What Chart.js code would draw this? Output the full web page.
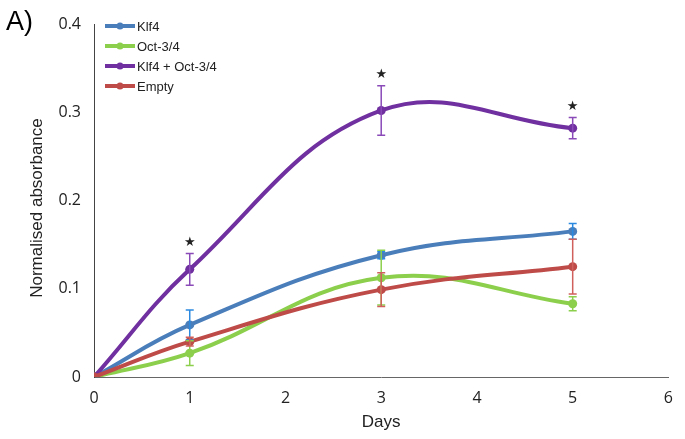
<!DOCTYPE html>
<html><head><meta charset="utf-8">
<script src="https://cdn.jsdelivr.net/npm/chart.js@4.4.0/dist/chart.umd.min.js"></script>
<style>html,body{margin:0;padding:0;background:#fff;} canvas{display:block;}</style>
</head><body>
<canvas id="c" width="685" height="439"></canvas>
<script>
const days = [0, 1, 3, 5];
const klf4 = [0, 0.059, 0.138, 0.165];
const klf4Err = [0, 0.017, 0.004, 0.009];
const oct = [0, 0.027, 0.1125, 0.083];
const octErr = [0, 0.014, 0.031, 0.008];
const both = [0, 0.122, 0.302, 0.282];
const bothErr = [0, 0.018, 0.028, 0.012];
const empty = [0, 0.040, 0.099, 0.125];
const emptyErr = [0, 0.005, 0.019, 0.031];
const seriesLabels = ['Klf4', 'Oct-3/4', 'Klf4 + Oct-3/4', 'Empty'];
const seriesColors = ['#4a7ebb', '#8ccf4d', '#7030a0', '#be4b48'];
const errColors = ['#2b8ae0', '#8ccf4d', '#8a4ab8', '#d0605c'];
const xTicks = [0, 1, 2, 3, 4, 5, 6];
const yTicks = [0, 0.1, 0.2, 0.3, 0.4];
const starDays = [1, 3, 5];
const panelLabel = 'A)';
const xTitle = 'Days';
const yTitle = 'Normalised absorbance';

const values = [klf4, oct, both, empty];
const errors = [klf4Err, octErr, bothErr, emptyErr];

const datasets = values.map((vals, i) => ({
  label: seriesLabels[i],
  data: days.map((d, j) => ({x: d, y: vals[j]})),
  borderColor: seriesColors[i],
  backgroundColor: seriesColors[i],
  borderWidth: 4,
  pointRadius: 4.5,
  pointBorderWidth: 0,
  pointHoverRadius: 4.5,
  tension: 0.4,
  fill: false,
  order: 4 - i
}));

const extras = {
  id: 'extras',
  afterDatasetsDraw(chart) {
    const {ctx, scales: {x, y}} = chart;
    ctx.save();
    values.forEach((vals, i) => {
      ctx.strokeStyle = errColors[i];
      ctx.lineWidth = 1.5;
      days.forEach((d, j) => {
        const e = errors[i][j];
        if (!e) return;
        const px = x.getPixelForValue(d);
        const top = y.getPixelForValue(vals[j] + e);
        const bot = y.getPixelForValue(vals[j] - e);
        ctx.beginPath();
        ctx.moveTo(px, top); ctx.lineTo(px, bot);
        ctx.moveTo(px - 4, top); ctx.lineTo(px + 4, top);
        ctx.moveTo(px - 4, bot); ctx.lineTo(px + 4, bot);
        ctx.stroke();
      });
    });
    ctx.fillStyle = '#222';
    ctx.font = '13px "DejaVu Sans"';
    ctx.textAlign = 'center';
    ctx.textBaseline = 'middle';
    starDays.forEach(d => {
      const j = days.indexOf(d);
      const px = x.getPixelForValue(d);
      const py = y.getPixelForValue(both[j] + bothErr[j]) - 11;
      ctx.fillText('\u2605', px, py);
    });
    ctx.restore();
  },
  afterDraw(chart) {
    const {ctx} = chart;
    ctx.save();
    seriesLabels.forEach((lab, i) => {
      const ly = 26 + 20 * i;
      ctx.strokeStyle = seriesColors[i];
      ctx.lineWidth = 4;
      ctx.beginPath(); ctx.moveTo(105, ly); ctx.lineTo(135, ly); ctx.stroke();
      ctx.fillStyle = seriesColors[i];
      ctx.beginPath(); ctx.arc(120, ly, 3.5, 0, Math.PI * 2); ctx.fill();
      ctx.fillStyle = '#222';
      ctx.font = '13px "Liberation Sans"';
      ctx.textAlign = 'left';
      ctx.textBaseline = 'middle';
      ctx.fillText(lab, 137, ly + 1);
    });
    ctx.save();
    ctx.translate(37, 208);
    ctx.rotate(-Math.PI / 2);
    ctx.fillStyle = '#222';
    ctx.font = '17px "Liberation Sans"';
    ctx.textAlign = 'center';
    ctx.textBaseline = 'middle';
    ctx.fillText(yTitle, 0, 0);
    ctx.restore();
    ctx.fillStyle = '#000';
    ctx.font = '27px "Liberation Sans"';
    ctx.textAlign = 'left';
    ctx.textBaseline = 'alphabetic';
    ctx.fillText(panelLabel, 6, 30);
    ctx.restore();
  }
};

new Chart(document.getElementById('c'), {
  type: 'line',
  data: {datasets},
  options: {
    responsive: false,
    animation: false,
    events: [],
    layout: {padding: {top: 24, right: 15, left: 0, bottom: 0}},
    plugins: {legend: {display: false}, tooltip: {enabled: false}},
    scales: {
      x: {
        type: 'linear', min: 0, max: 6,
        afterBuildTicks: s => { s.ticks = xTicks.map(v => ({value: v})); },
        afterFit: s => { s.height = 62; },
        grid: {display: false, drawTicks: false},
        border: {display: true, color: '#666', width: 1},
        ticks: {padding: 12, color: '#222', font: {family: '"Open Sans"', size: 16}, callback: v => String(v)},
        title: {display: true, text: xTitle, color: '#222', font: {family: '"Liberation Sans"', size: 17}, padding: {top: 0, bottom: 6}}
      },
      y: {
        type: 'linear', min: 0, max: 0.4,
        afterBuildTicks: s => { s.ticks = yTicks.map(v => ({value: v})); },
        afterFit: s => { s.width = 94; },
        grid: {display: false, drawTicks: false},
        border: {display: true, color: '#444', width: 1},
        ticks: {padding: 13, color: '#222', font: {family: '"Open Sans"', size: 16}, callback: v => v === 0 ? '0' : v.toFixed(1)},
        title: {display: false, text: yTitle}
      }
    }
  },
  plugins: [extras]
});
</script>
</body></html>
